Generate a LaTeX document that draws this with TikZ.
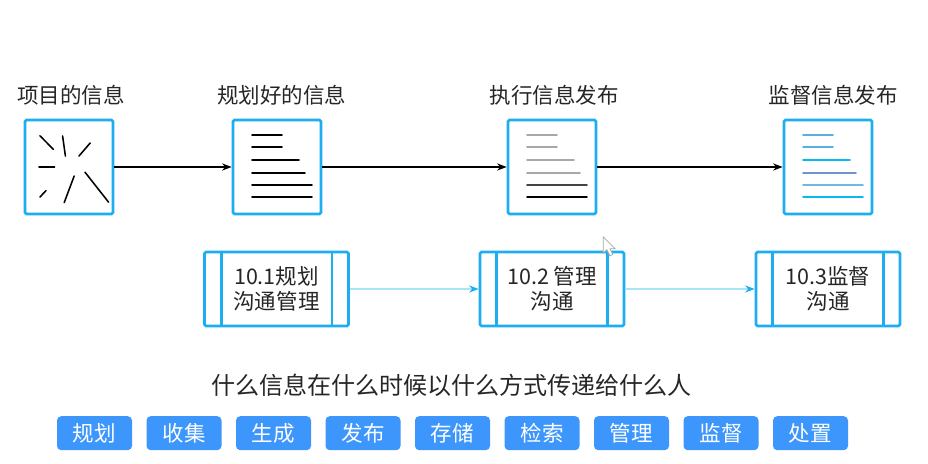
\documentclass[tikz,border=0pt]{standalone}
\usepackage{fontspec}
\setmainfont{Noto Sans CJK SC}
\definecolor{ppBlue}{RGB}{28, 174, 240}
\definecolor{ppPale}{RGB}{170, 228, 248}
\definecolor{ppBtn}{RGB}{61, 150, 251}
\definecolor{ppText}{RGB}{38, 38, 38}
\definecolor{ppGrayLine}{RGB}{168, 168, 168}
\definecolor{ppDark}{RGB}{68, 68, 68}
\definecolor{ppSky}{RGB}{90, 174, 224}
\definecolor{ppCyan}{RGB}{10, 184, 240}
\definecolor{ppSteel}{RGB}{111, 148, 208}
\definecolor{ppMist}{RGB}{111, 184, 224}
\usetikzlibrary{arrows.meta, calc}
\tikzset{
  docbox/.style={rectangle, rounded corners=1pt, draw=ppBlue, line width=1.9pt, fill=white, minimum width=2.2cm, minimum height=2.35cm, inner sep=0pt},
  procbox/.style={rectangle, rounded corners=1pt, draw=ppBlue, line width=1.9pt, fill=white, minimum width=3.6cm, minimum height=1.85cm, inner sep=0pt, align=center, text=ppText, font=\fontsize{15.3}{17.8}\selectfont},
  procline/.style={ppBlue, line width=1.9pt},
  title/.style={inner sep=0pt, text=ppText, font=\fontsize{15.3}{18}\selectfont},
  btn/.style={rectangle, rounded corners=3pt, fill=ppBtn, text=white, minimum width=1.875cm, minimum height=0.85cm, inner sep=0pt, font=\fontsize{15.3}{18}\selectfont},
  myarrow/.style={-{Stealth[length=2.4mm]}, line width=1.1pt, black},
  palearrow/.style={-{Stealth[length=2.4mm, color=ppBlue]}, line width=1pt, ppPale},
  stroke/.style={line width=1.1pt, line cap=round, #1},
  stroke/.default=black,
}
\begin{document}
\begin{tikzpicture}
  \useasboundingbox (0, 0) rectangle (23.2, 11.6);

  \node[title] (t1) at (1.775, 9.225) {项目的信息};
  \node[title] (t2) at (7.04, 9.225) {规划好的信息};
  \node[title] (t3) at (13.86, 9.225) {执行信息发布};
  \node[title] (t4) at (20.835, 9.225) {监督信息发布};

  \node[docbox] (raw) at (1.725, 7.425) {};
  \node[docbox] (planned) at (6.925, 7.425) {};
  \node[docbox] (issued) at (13.8, 7.425) {};
  \node[docbox] (tracked) at (20.7, 7.425) {};

  \draw[myarrow] (raw.east) -- (planned.west);
  \draw[myarrow] (planned.east) -- (issued.west);
  \draw[myarrow] (issued.east) -- (tracked.west);

  % scattered strokes
  \begin{scope}[shift={(raw.center)}]
    \foreach \ax/\ay/\bx/\by in {-.725/.78/-.39/.44, -.16/.775/-.09/.275, .53/.6/.25/.275, -.75/0/-.36/0, .13/-.225/-.12/-.89, .4/-.13/.99/-.88, -.575/-.59/-.725/-.75} {
      \draw[stroke] (\ax, \ay) -- (\bx, \by);
    }
  \end{scope}

  % text lines of the three documents
  \foreach \y/\e/\ca/\cb in {.8/.125/ppGrayLine/ppSky, .5/.125/ppGrayLine/ppSky, .175/.55/ppGrayLine/ppCyan, -.15/.7/ppGrayLine/ppSteel, -.45/.875/ppDark/ppMist, -.75/.875/black/ppCyan} {
    \draw[stroke] ($(planned.center)+(-.625, \y)$) -- ($(planned.center)+(\e, \y)$);
    \draw[stroke=\ca] ($(issued.center)+(-.625, \y)$) -- ($(issued.center)+(\e, \y)$);
    \draw[stroke=\cb] ($(tracked.center)+(-.625, \y)$) -- ($(tracked.center)+(\e, \y)$);
  }

  \node[procbox] (plan) at (6.9125, 4.375) {10.1规划\\沟通管理};
  \node[procbox] (manage) at (13.8, 4.375) {10.2 管理\\沟通};
  \node[procbox] (monitor) at (20.7, 4.375) {10.3监督\\沟通};

  \foreach \n in {plan, manage, monitor} {
    \draw[procline] ([xshift=0.45cm]\n.north west) -- ([xshift=0.45cm]\n.south west);
    \draw[procline] ([xshift=-0.45cm]\n.north east) -- ([xshift=-0.45cm]\n.south east);
  }

  \draw[palearrow] (plan.east) -- (manage.west);
  \draw[palearrow] (manage.east) -- (monitor.west);

  % pointer
  \draw[ppGrayLine, fill=white, line width=0.5pt] (15.08, 5.68) -- (15.08, 5.27) -- (15.17, 5.36) -- (15.25, 5.2) -- (15.32, 5.24) -- (15.25, 5.38) -- (15.38, 5.38) -- cycle;

  \node[inner sep=0pt, text=ppText, font=\fontsize{17.1}{20}\selectfont] (q) at (11.29, 1.97) {什么信息在什么时候以什么方式传递给什么人};

  \foreach \i/\s in {0/规划, 1/收集, 2/生成, 3/发布, 4/存储, 5/检索, 6/管理, 7/监督, 8/处置} {
    \node[btn] (b\i) at ({2.3625 + 2.2375*\i}, 0.77) {\s};
  }
\end{tikzpicture}
\end{document}
